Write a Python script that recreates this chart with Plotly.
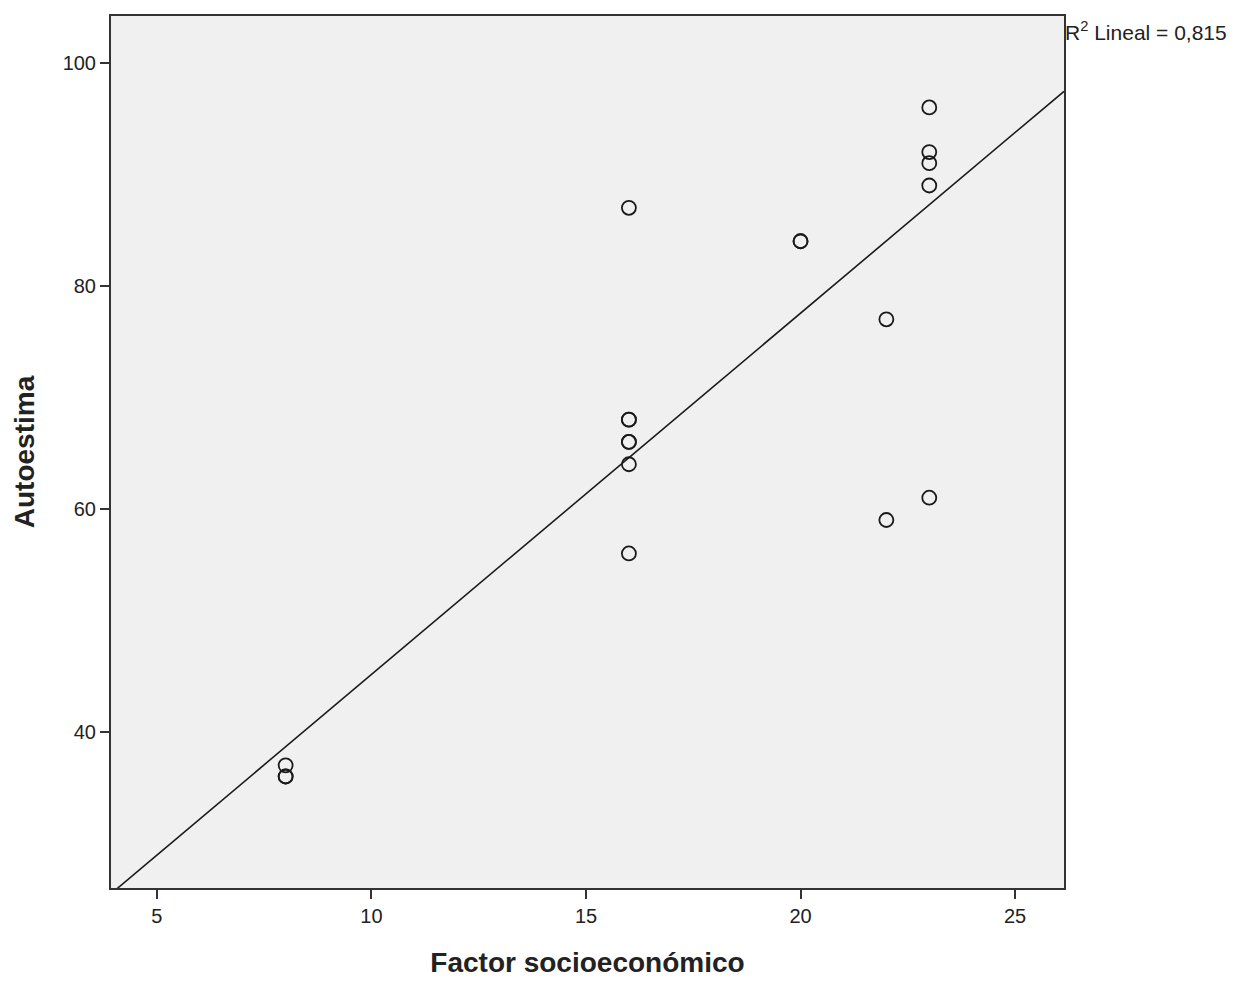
import plotly.graph_objects as go

factor = [8, 8, 8,
          16, 16, 16, 16, 16, 16, 16,
          20, 20,
          22, 22,
          23, 23, 23, 23, 23]
autoestima = [37, 36, 36,
              87, 68, 68, 66, 66, 64, 56,
              84, 84,
              77, 59,
              96, 92, 91, 89, 61]

# Fit line coefficients
fit_slope = 3.24
fit_intercept = 12.75

x_range = [3.93, 26.14]
y_range = [26.0, 104.2]
x_ticks = [5, 10, 15, 20, 25]
y_ticks = [40, 60, 80, 100]
r2_label = "R<sup>2</sup> Lineal = 0,815"

fx = list(x_range)
fy = [fit_slope * v + fit_intercept for v in fx]

FONT = "Liberation Sans, Arial, sans-serif"

fig = go.Figure()
fig.add_trace(go.Scatter(
    x=fx, y=fy, mode="lines",
    line=dict(color="#1a1a1a", width=1.6),
    hoverinfo="skip", showlegend=False))
fig.add_trace(go.Scatter(
    x=factor, y=autoestima, mode="markers",
    marker=dict(symbol="circle-open", size=14, color="#1a1a1a",
                line=dict(width=1.8, color="#1a1a1a")),
    showlegend=False))

axis_common = dict(showgrid=False, zeroline=False, showline=True,
                   linecolor="#333333", linewidth=2, mirror=True,
                   ticks="outside", ticklen=9, tickwidth=1.5, tickcolor="#333333",
                   tickfont=dict(family=FONT, size=20, color="#222222"))

fig.update_xaxes(range=x_range, tickvals=x_ticks, **axis_common,
                 title=dict(text="<b>Factor socioeconómico</b>",
                            font=dict(family=FONT, size=28, color="#222222"),
                            standoff=26))
fig.update_yaxes(range=y_range, tickvals=y_ticks, **axis_common,
                 title=dict(text="<b>Autoestima</b>",
                            font=dict(family=FONT, size=28, color="#222222"),
                            standoff=20))

fig.add_annotation(x=1.0, y=1.0, xref="paper", yref="paper",
                   xanchor="left", yanchor="top", xshift=-1, yshift=0,
                   text=r2_label, showarrow=False,
                   font=dict(family=FONT, size=21, color="#222222"))

fig.update_layout(
    width=1247, height=983,
    margin=dict(l=103, r=191, t=6, b=103),
    plot_bgcolor="#f0f0f0", paper_bgcolor="white",
)

fig.write_html("out.html")
